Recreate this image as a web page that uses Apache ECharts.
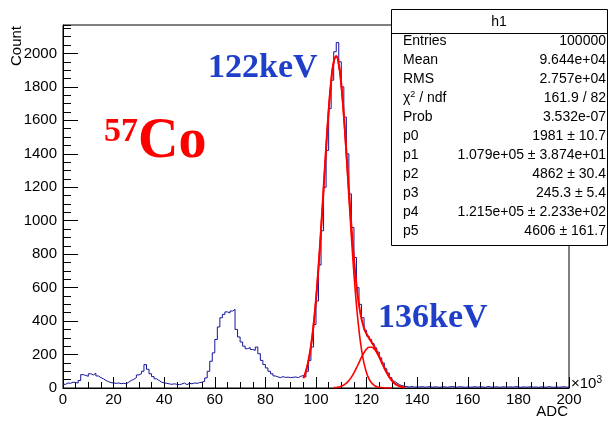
<!DOCTYPE html>
<html>
<head>
<meta charset="utf-8">
<script src="https://cdn.jsdelivr.net/npm/echarts@6/dist/echarts.min.js"></script>
<style>
  html, body { margin: 0; padding: 0; background: #fff; }
  #chart { width: 610px; height: 422px; }
</style>
</head>
<body>
<div id="chart"></div>
<script>
// histogram: 200 bins of width 1 (x10^3 ADC), starting at 0
var binStart = 0;
var binWidth = 1;
var histCounts = [
  22, 30, 28, 35, 32, 30, 45, 80, 75, 70,
  85, 78, 88, 72, 62, 55, 45, 38, 32, 30,
  28, 30, 26, 28, 25, 35, 45, 52, 62, 78,
  85, 100, 140, 112, 85, 68, 55, 45, 35, 30,
  28, 25, 22, 25, 22, 20, 24, 30, 20, 28,
  25, 30, 28, 32, 35, 40, 60, 100, 160, 210,
  290, 365, 420, 440, 455, 448, 460, 470, 350, 305,
  275, 250, 235, 242, 230, 225, 245, 205, 165, 140,
  120, 100, 85, 72, 66, 62, 68, 63, 65, 62,
  64, 66, 62, 70, 75, 65, 100, 165, 245, 380,
  520, 735, 940, 1200, 1420, 1670, 1840, 2010, 2065, 1950,
  1800, 1620, 1400, 1160, 960, 780, 600, 500, 420, 345,
  310, 290, 265, 240, 215, 180, 150, 115, 90, 62,
  40, 30, 20, 14, 10, 8, 6, 9, 5, 7,
  6, 8, 5, 6, 9, 5, 7, 6, 4, 8,
  6, 5, 7, 9, 6, 5, 8, 6, 4, 7,
  5, 6, 8, 5, 7, 6, 4, 9, 6, 5,
  7, 6, 4, 8, 5, 6, 7, 5, 9, 6,
  4, 7, 5, 6, 8, 5, 6, 4, 7, 6,
  5, 8, 6, 4, 7, 5, 6, 8, 5, 6
];

// fit curves, one point per 1 (x10^3 ADC)
var fitTotalStart = 95;
var fitTotal = [
  59, 99, 161, 249, 371, 529, 724, 949, 1192, 1436,
  1658, 1835, 1949, 1984, 1937, 1816, 1635, 1417, 1188, 967,
  773, 615, 496, 413, 358, 323, 297, 274, 249, 220,
  188, 154, 121, 91, 65, 45, 29, 18, 11, 6, 3
];
var gaus1Start = 95;
var gaus1 = [
  59, 99, 161, 249, 371, 529, 724, 949, 1192, 1436,
  1658, 1835, 1947, 1981, 1931, 1805, 1617, 1388, 1143, 902,
  682, 495, 344, 229, 146, 90, 53, 30, 16, 8,
  4, 2, 1, 0, 0, 0
];
var gaus2Start = 107;
var gaus2 = [
  2, 3, 6, 11, 18, 29, 45, 65, 91, 120,
  152, 184, 212, 233, 244, 244, 233, 212, 184, 152,
  120, 91, 65, 45, 29, 18, 11, 6, 3
];

var statsNames = ['Entries', 'Mean', 'RMS', '{t|χ}{s|2}{t| / ndf}', 'Prob', 'p0', 'p1', 'p2', 'p3', 'p4', 'p5'];
var statsValues = ['100000', '9.644e+04', '2.757e+04', '161.9 / 82', '3.532e-07',
  '1981 ± 10.7', '1.079e+05 ± 3.874e+01', '4862 ± 30.4', '245.3 ± 5.4',
  '1.215e+05 ± 2.233e+02', '4606 ± 161.7'];

function toPairs(start, step, values) {
  return values.map(function (v, i) { return [start + i * step, v]; });
}

var histData = toPairs(binStart, binWidth, histCounts);
histData.push([binStart + histCounts.length * binWidth, histCounts[histCounts.length - 1]]);

var FONT = '"Liberation Sans", Arial, Helvetica, sans-serif';
var SERIF = '"Liberation Serif", "Times New Roman", serif';

var chart = echarts.init(document.getElementById('chart'));

var graphics = [];
// stats box
graphics.push({
  type: 'rect', z: 100,
  shape: { x: 391.5, y: 9.5, width: 216, height: 236 },
  style: { fill: '#fff', stroke: '#000', lineWidth: 1 }
});
graphics.push({
  type: 'line', z: 101,
  shape: { x1: 391.5, y1: 33.5, x2: 607.5, y2: 33.5 },
  style: { stroke: '#000', lineWidth: 1 }
});
graphics.push({
  type: 'text', z: 101, x: 499, y: 22,
  style: { text: 'h1', font: '14px ' + FONT, fill: '#000', align: 'center', verticalAlign: 'middle' }
});
for (var i = 0; i < statsNames.length; i++) {
  var rowY = 41 + i * 19;
  graphics.push({
    type: 'text', z: 101, x: 403, y: rowY,
    style: {
      text: statsNames[i], font: '14px ' + FONT, fill: '#000', verticalAlign: 'middle',
      rich: {
        t: { fontSize: 14, fontFamily: FONT },
        s: { fontSize: 9, fontFamily: FONT, verticalAlign: 'top', padding: [0, 0, 6, 0] }
      }
    }
  });
  graphics.push({
    type: 'text', z: 101, x: 606, y: rowY,
    style: { text: statsValues[i], font: '14px ' + FONT, fill: '#000', align: 'right', verticalAlign: 'middle' }
  });
}
// axis titles
graphics.push({
  type: 'text', x: 17, y: 26, rotation: Math.PI / 2,
  style: { text: 'Count', font: '15px ' + FONT, fill: '#000', align: 'right', verticalAlign: 'middle' }
});
graphics.push({
  type: 'text', x: 568, y: 412,
  style: { text: 'ADC', font: '15px ' + FONT, fill: '#000', align: 'right', verticalAlign: 'middle' }
});
graphics.push({
  type: 'text', x: 571, y: 384,
  style: {
    text: '{a|×10}{b|3}', fill: '#000', verticalAlign: 'middle',
    rich: {
      a: { fontSize: 15, fontFamily: FONT },
      b: { fontSize: 10, fontFamily: FONT, verticalAlign: 'top', padding: [0, 0, 7, 0] }
    }
  }
});
// annotations
graphics.push({
  type: 'text', x: 208, y: 68,
  style: { text: '122keV', font: 'bold 34px ' + SERIF, fill: '#1f3fc8', verticalAlign: 'middle' }
});
graphics.push({
  type: 'text', x: 378, y: 318,
  style: { text: '136keV', font: 'bold 34px ' + SERIF, fill: '#1f3fc8', verticalAlign: 'middle' }
});
graphics.push({
  type: 'text', x: 104, y: 171,
  style: {
    text: '{a|57}{b|Co}', fill: '#ff0000', verticalAlign: 'bottom',
    rich: {
      a: { fontSize: 34, fontWeight: 'bold', fontFamily: SERIF, fill: '#ff0000', verticalAlign: 'top', padding: [0, 0, 10, 0] },
      b: { fontSize: 56, fontWeight: 'bold', fontFamily: SERIF, fill: '#ff0000' }
    }
  }
});

option = {
  animation: false,
  grid: { left: 63, right: 41, top: 25, bottom: 34, show: true, borderColor: '#000', borderWidth: 1, backgroundColor: 'transparent' },
  xAxis: {
    type: 'value', min: 0, max: 200, interval: 20,
    axisLine: { lineStyle: { color: '#000', width: 1 } },
    axisTick: { inside: true, length: 11, lineStyle: { color: '#000' } },
    minorTick: { show: true, splitNumber: 4, length: 6, lineStyle: { color: '#000' } },
    splitLine: { show: false },
    axisLabel: { fontSize: 15, fontFamily: FONT, color: '#000', margin: 4 }
  },
  yAxis: [{
    type: 'value', min: 0, max: 2170, interval: 200,
    axisLine: { show: true, lineStyle: { color: '#000', width: 1 } },
    axisTick: { inside: true, length: 15, lineStyle: { color: '#000' } },
    splitLine: { show: false },
    axisLabel: {
      fontSize: 15, fontFamily: FONT, color: '#000', margin: 6, showMaxLabel: false,
      formatter: function (v) { return v % 200 === 0 ? String(v) : ''; }
    }
  }, {
    type: 'value', min: 0, max: 2170, interval: 50, position: 'left',
    axisLine: { show: false },
    axisTick: { show: true, inside: true, length: 8, lineStyle: { color: '#000' } },
    splitLine: { show: false },
    axisLabel: { show: false }
  }],
  series: [
    {
      type: 'line', step: 'end', data: histData, showSymbol: false, z: 2,
      lineStyle: { color: '#14149a', width: 1 }
    },
    {
      type: 'line', smooth: true, data: toPairs(fitTotalStart, 1, fitTotal), showSymbol: false, z: 4,
      lineStyle: { color: '#ff0000', width: 2 }
    },
    {
      type: 'line', smooth: true, data: toPairs(gaus1Start, 1, gaus1), showSymbol: false, z: 3,
      lineStyle: { color: '#ff0000', width: 1.6 }
    },
    {
      type: 'line', smooth: true, data: toPairs(gaus2Start, 1, gaus2), showSymbol: false, z: 3,
      lineStyle: { color: '#ff0000', width: 1.6 }
    }
  ],
  graphic: graphics
};

chart.setOption(option);
</script>
</body>
</html>
